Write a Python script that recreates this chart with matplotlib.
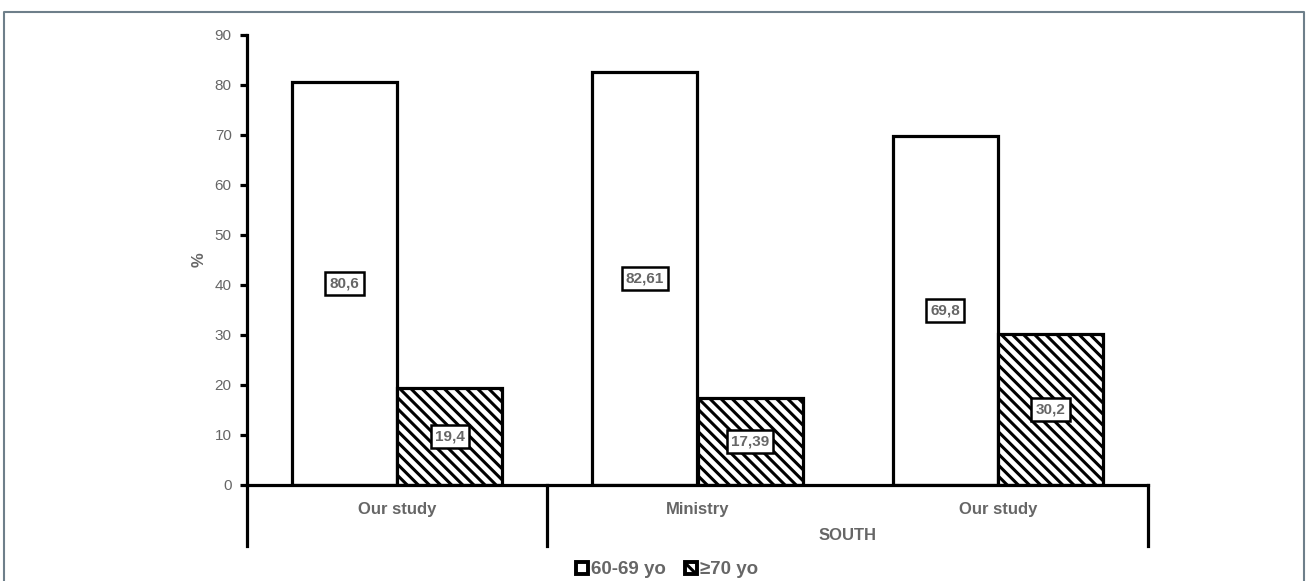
import numpy as np
import matplotlib
matplotlib.use("Agg")
import matplotlib.pyplot as plt
import matplotlib.transforms as mtransforms
from matplotlib.patches import Patch
from matplotlib.lines import Line2D

# -- data
categories = ['Our study', 'Ministry', 'Our study']
group_label = 'SOUTH'
series_names = ['60-69 yo', '\u226570 yo']
vals_6069 = [80.6, 82.61, 69.8]
vals_70 = [19.4, 17.39, 30.2]
labels_6069 = ['80,6', '82,61', '69,8']
labels_70 = ['19,4', '17,39', '30,2']
yticks = np.arange(0, 91, 10)

plt.rcParams['font.family'] = ['Liberation Sans', 'DejaVu Sans']
plt.rcParams['hatch.linewidth'] = 2.2
plt.rcParams['hatch.color'] = 'black'

txt_col = '#666666'
lw = 2.3
hatch = '\\\\\\'

fig = plt.figure(figsize=(13.06, 5.81), dpi=100)
ax = fig.add_axes([247 / 1306, 96 / 581, 901 / 1306, 450 / 581])

x = np.arange(len(categories))
w = 0.35
ax.bar(x - w / 2, vals_6069, w, color='white', edgecolor='black', linewidth=lw, zorder=2)
ax.bar(x + w / 2, vals_70, w, color='white', edgecolor='black', linewidth=lw,
       hatch=hatch, zorder=2)

box = dict(boxstyle='square,pad=0.28', fc='white', ec='black', lw=1.8)
for i in range(len(x)):
    ax.text(x[i] - w / 2, vals_6069[i] / 2, labels_6069[i], ha='center', va='center',
            fontsize=11, fontweight='bold', color=txt_col, bbox=box, zorder=3)
    ax.text(x[i] + w / 2, vals_70[i] / 2, labels_70[i], ha='center', va='center',
            fontsize=11, fontweight='bold', color=txt_col, bbox=box, zorder=3)

ax.set_xlim(-0.5, len(categories) - 0.5)
ax.set_ylim(0, 90)
ax.set_yticks(yticks)
ax.tick_params(axis='y', length=5, width=lw, colors='black', labelcolor=txt_col,
               labelsize=11, pad=6)
ax.set_xticks(x)
ax.set_xticklabels(categories, fontsize=12, fontweight='bold', color=txt_col)
ax.tick_params(axis='x', length=0, pad=12)
for s in ['top', 'right']:
    ax.spines[s].set_visible(False)
for s in ['left', 'bottom']:
    ax.spines[s].set_linewidth(lw)
    ax.spines[s].set_capstyle('projecting')
ax.set_ylabel('%', fontsize=12, fontweight='bold', color=txt_col, labelpad=6)

# group dividers below the axis
trans = mtransforms.blended_transform_factory(ax.transData, ax.transAxes)
for xd in [-0.5, 0.5, len(categories) - 0.5]:
    ax.plot([xd, xd], [0, -0.136], transform=trans, color='black', lw=lw,
            clip_on=False, solid_capstyle='projecting')
ax.text(1.5, -0.113, group_label, transform=trans, ha='center', va='center',
        fontsize=12, fontweight='bold', color=txt_col)

handles = [Patch(facecolor='white', edgecolor='black', linewidth=2.8),
           Patch(facecolor='white', edgecolor='black', linewidth=2.8, hatch=hatch)]
fig.legend(handles, series_names, loc='center', bbox_to_anchor=(667 / 1306, 1 - 570 / 581),
           ncol=2, frameon=False, handlelength=0.65, handleheight=0.65, handletextpad=0.15,
           columnspacing=1.0, prop={'size': 13.5, 'weight': 'bold'}, labelcolor=txt_col)

# thin frame around the figure (no bottom edge)
fig.lines.append(Line2D([4 / 1306, 4 / 1306, 1304 / 1306, 1304 / 1306],
                        [0, 1 - 12 / 581, 1 - 12 / 581, 0], transform=fig.transFigure,
                        color='#6e7f8a', linewidth=1.5))

fig.savefig('out.png', dpi=100)
